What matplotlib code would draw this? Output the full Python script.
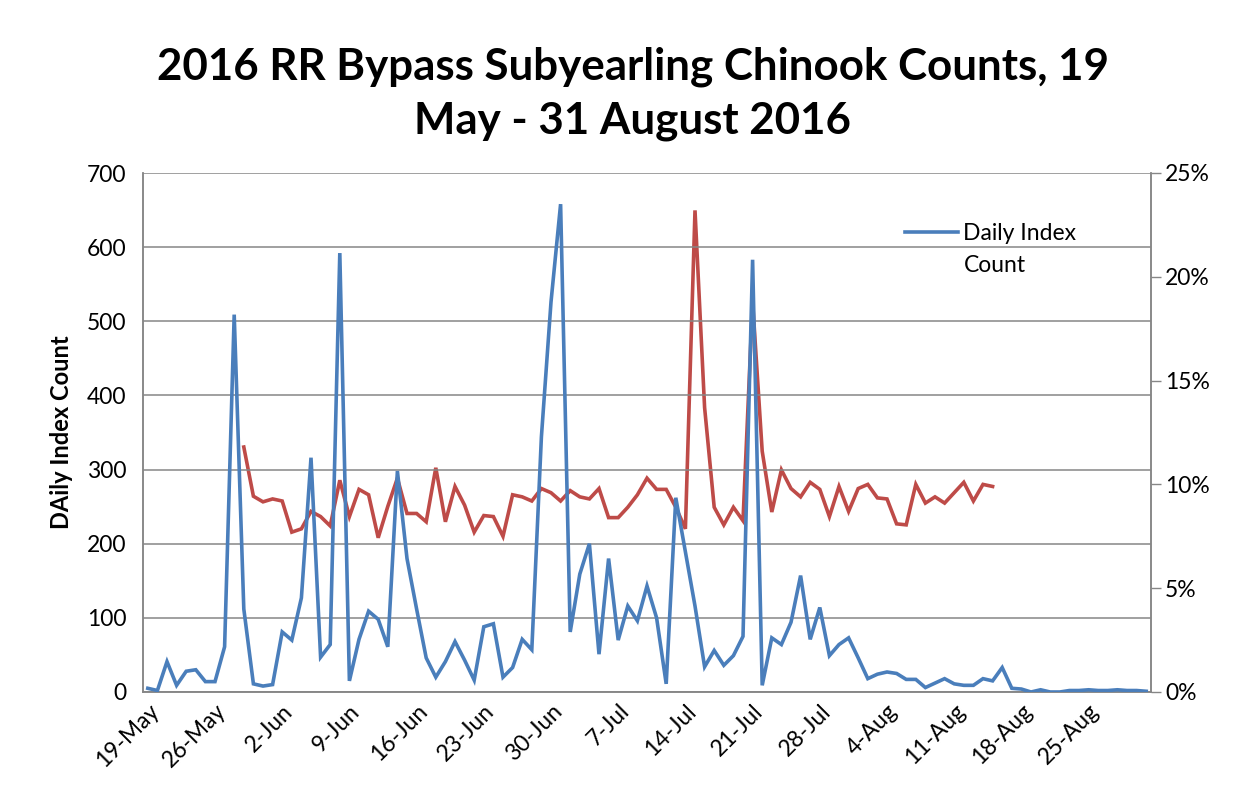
import matplotlib
matplotlib.use("Agg")
import matplotlib.pyplot as plt
import numpy as np
import pandas as pd
from matplotlib.ticker import MultipleLocator, FuncFormatter

plt.rcParams['font.family'] = ['Lato', 'DejaVu Sans']

# ---- data ----
dates = pd.date_range("2016-05-19", "2016-08-31", freq="D")

daily_index_count = [
    5, 2, 41, 9, 28, 30, 14, 14, 61, 509,
    112, 11, 8, 10, 81, 70, 127, 316, 47, 64,
    592, 15, 71, 109, 98, 61, 298, 180, 112, 46,
    20, 41, 68, 43, 16, 88, 92, 20, 33, 71,
    57, 344, 526, 658, 81, 159, 200, 51, 180, 70,
    116, 96, 143, 100, 11, 262, 189, 116, 34, 56,
    36, 49, 75, 583, 9, 73, 64, 94, 157, 71,
    114, 49, 64, 73, 46, 18, 24, 27, 25, 17,
    17, 6, 12, 18, 11, 9, 9, 18, 15, 33,
    5, 4, 0, 3, 0, 0, 2, 2, 3, 2,
    2, 3, 2, 2, 1,
]

# percent series (secondary axis), 29-May through 15-Aug
percent_start = "2016-05-29"
percent_values = [
    11.8, 9.43, 9.16, 9.3, 9.2, 7.7, 7.86, 8.7, 8.45, 8.0,
    10.2, 8.45, 9.76, 9.5, 7.43, 8.94, 10.3, 8.6, 8.6, 8.2,
    10.8, 8.2, 9.9, 9.0, 7.7, 8.5, 8.45, 7.5, 9.5, 9.4,
    9.2, 9.8, 9.6, 9.2, 9.7, 9.4, 9.3, 9.8, 8.4, 8.4,
    8.9, 9.5, 10.3, 9.76, 9.76, 8.9, 7.86, 23.2, 13.7, 8.9,
    8.05, 8.9, 8.25, 18.8, 11.6, 8.67, 10.7, 9.8, 9.4, 10.1,
    9.76, 8.45, 9.9, 8.7, 9.8, 10.0, 9.35, 9.3, 8.1, 8.05,
    10.0, 9.1, 9.4, 9.1, 9.6, 10.1, 9.2, 10.0, 9.9,
]
percent_dates = pd.date_range(percent_start, periods=len(percent_values), freq="D")

tick_dates = ["2016-05-19", "2016-05-26", "2016-06-02", "2016-06-09", "2016-06-16",
              "2016-06-23", "2016-06-30", "2016-07-07", "2016-07-14", "2016-07-21",
              "2016-07-28", "2016-08-04", "2016-08-11", "2016-08-18", "2016-08-25"]
tick_labels = ["19-May", "26-May", "2-Jun", "9-Jun", "16-Jun", "23-Jun", "30-Jun",
               "7-Jul", "14-Jul", "21-Jul", "28-Jul", "4-Aug", "11-Aug", "18-Aug", "25-Aug"]

title = "2016 RR Bypass Subyearling Chinook Counts, 19\nMay - 31 August 2016"
legend_label = "Daily Index"
legend_label_cont = "Count"

blue = "#4A7EBB"
red = "#BE4B48"
grid_c = "#868686"
FS = 16.5

# ---- figure ----
W, H = 1255, 797
fig = plt.figure(figsize=(W / 100, H / 100), dpi=100)
L, R, T, B = 143, 1151, 173, 692
ax = fig.add_axes([L / W, 1 - B / H, (R - L) / W, (B - T) / H])
ax2 = ax.twinx()

x0 = dates[0] - pd.Timedelta(hours=12)
x1 = dates[-1] + pd.Timedelta(hours=12)

ax.plot(dates, daily_index_count, color=blue, lw=2.6, label=legend_label,
        solid_joinstyle="miter", zorder=3)
ax2.plot(percent_dates, np.array(percent_values) / 100.0, color=red, lw=2.6,
         solid_joinstyle="miter", zorder=3)

ax.set_xlim(x0, x1)
ax.set_ylim(0, 700)
ax.yaxis.set_major_locator(MultipleLocator(100))
ax2.set_ylim(0, 0.25)
ax2.yaxis.set_major_locator(MultipleLocator(0.05))
ax2.yaxis.set_major_formatter(FuncFormatter(lambda v, p: f"{v*100:.0f}%"))

ax.set_xticks(pd.to_datetime(tick_dates))
ax.set_xticklabels(tick_labels, rotation=45, ha="right", rotation_mode="anchor",
                   fontsize=FS)
ax.tick_params(axis="x", length=0, pad=6)
ax.tick_params(axis="y", length=0, labelsize=FS, pad=12)
ax2.tick_params(axis="y", length=7, width=1, color=grid_c, labelsize=FS, pad=3)

ax.grid(axis="y", color=grid_c, lw=1.1)
ax.set_axisbelow(True)
for a in (ax, ax2):
    for s in a.spines.values():
        s.set_color(grid_c)
        s.set_linewidth(1.1)
ax2.spines["top"].set_visible(False)
ax.spines["top"].set_visible(False)

ax.set_ylabel("DAily Index Count", fontsize=17, fontweight="bold", labelpad=10)

leg = ax.legend(loc="upper left",
                bbox_to_anchor=((905 - L) / (R - L), 1 - (223 - T) / (B - T)),
                frameon=False, fontsize=FS, handlelength=2.3, handletextpad=0.25,
                borderaxespad=0, borderpad=0)
ax.set_zorder(ax2.get_zorder() + 1)
ax.patch.set_visible(False)

fig.text(0.504, 1 - 94 / H, title, ha="center", va="center", fontsize=31.6,
         fontweight="bold", linespacing=1.42)

# second line of the wrapped legend label, aligned under the first
fig.canvas.draw()
tb = leg.get_texts()[0].get_window_extent()
fig.text(tb.x0 / W, (tb.y0 - 32) / H, legend_label_cont, fontsize=FS,
         ha="left", va="bottom")

fig.savefig("out.png", dpi=100)
